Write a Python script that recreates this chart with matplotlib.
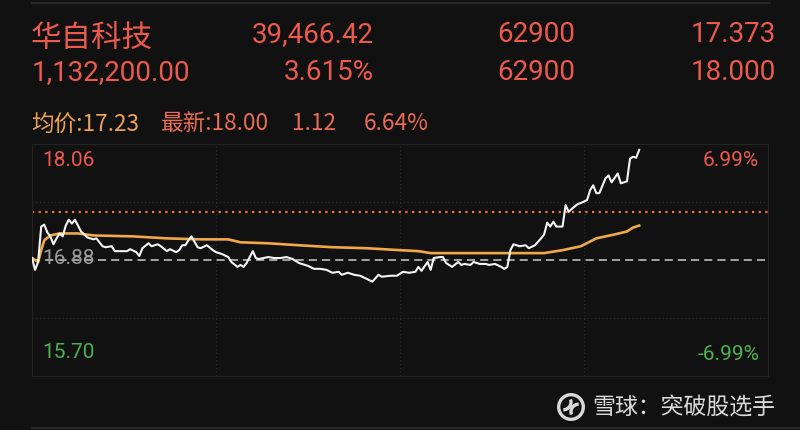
import matplotlib
matplotlib.use("Agg")
import matplotlib.pyplot as plt
from matplotlib.patches import Circle, Arc

# ---------------- data ----------------
stock_name = "华自科技"
header_row1 = ["39,466.42", "62900", "17.373"]
header_row2 = ["1,132,200.00", "3.615%", "62900", "18.000"]
avg_label = "均价:17.23"
last_label = "最新:18.00"
change_label = "1.12"
pct_label = "6.64%"

prev_close = 16.88
limit_pct = 0.0699
ref_line_price = 17.373
top_label = "18.06"
bottom_label = "15.70"
mid_label = "16.88"
top_pct_label = "6.99%"
bottom_pct_label = "-6.99%"

price_minutes = [0, 1, 2, 3, 4, 5, 6, 7, 8, 9, 10, 11, 12, 13, 14, 16, 17, 18, 20, 21,
                 23, 24, 26, 27, 29, 31, 32, 34, 35, 36, 38, 39, 41, 42, 44, 45, 47, 48, 49, 50,
                 51, 52, 54, 55, 57, 59, 60, 62, 64, 65, 67, 68, 69, 70, 72, 73, 74, 77, 79, 81,
                 83, 85, 87, 90, 92, 94, 96, 98, 100, 101, 103, 105, 107, 109, 111, 113, 114, 117, 119, 121,
                 123, 125, 126, 127, 129, 130, 131, 133, 134, 135, 137, 139, 140, 141, 143, 144, 146, 148, 149, 151,
                 153, 154, 155, 156, 157, 159, 161, 162, 164, 166, 167, 168, 169, 170, 171, 173, 174, 175, 176, 178,
                 179, 181, 182, 183, 184, 185, 187, 188, 189, 191, 192, 194, 195, 196, 197, 198]
price_values = [16.90, 16.78, 16.86, 17.22, 17.24, 17.16, 17.12, 17.04, 17.10, 17.15, 17.12, 17.23, 17.29, 17.25, 17.29, 17.17, 17.14, 17.11, 17.09, 17.10,
                17.02, 17.01, 17.02, 16.97, 16.97, 16.97, 16.99, 16.96, 16.92, 17.00, 17.05, 17.02, 17.04, 17.02, 16.97, 16.99, 16.96, 16.98, 17.03, 17.03,
                17.08, 17.12, 17.01, 17.00, 17.03, 16.98, 16.96, 16.94, 16.91, 16.86, 16.81, 16.83, 16.81, 16.85, 16.97, 16.90, 16.89, 16.91, 16.90, 16.90,
                16.91, 16.89, 16.85, 16.82, 16.79, 16.79, 16.78, 16.75, 16.76, 16.73, 16.75, 16.73, 16.72, 16.69, 16.66, 16.73, 16.71, 16.72, 16.72, 16.76,
                16.75, 16.76, 16.81, 16.77, 16.86, 16.78, 16.90, 16.91, 16.91, 16.85, 16.81, 16.86, 16.83, 16.84, 16.83, 16.86, 16.84, 16.84, 16.83, 16.84,
                16.81, 16.79, 16.81, 16.98, 17.04, 17.02, 17.03, 17.00, 17.03, 17.10, 17.14, 17.26, 17.22, 17.27, 17.22, 17.22, 17.44, 17.37, 17.40, 17.45,
                17.46, 17.49, 17.59, 17.64, 17.56, 17.56, 17.71, 17.74, 17.67, 17.76, 17.66, 17.68, 17.91, 17.93, 17.92, 18.00]

avg_minutes = [0, 2, 3, 4, 6, 9, 15, 20, 33, 44, 55, 64, 68, 77, 87, 98, 109, 120, 126, 130,
               142, 156, 167, 173, 179, 184, 190, 194, 196, 198]
avg_values = [16.90, 16.86, 16.98, 17.08, 17.13, 17.15, 17.15, 17.13, 17.12, 17.10, 17.09, 17.09, 17.06, 17.05, 17.03, 17.01, 17.00, 16.98, 16.97, 16.95,
              16.95, 16.95, 16.95, 16.98, 17.02, 17.10, 17.14, 17.17, 17.21, 17.23]

watermark = "雪球：突破股选手"

# ---------------- style ----------------
BG = "#111111"
RED = "#ec5a4e"
GREEN = "#4fb04d"
ORANGE_TXT = "#eba257"
SALMON = "#ec6c55"
GRID = "#2b2b2b"
CJK = ["Noto Sans CJK SC", "DejaVu Sans"]
NUM = ["Roboto", "DejaVu Sans"]

W, H = 800, 430
fig = plt.figure(figsize=(8, 4.3), dpi=100, facecolor=BG)

def fx(px):
    return px / W

def fy(py):
    return 1 - py / H

# header
fig.text(fx(31), fy(38), stock_name, color=RED, fontsize=22, family=CJK, va="center", ha="left")
for s, xr in zip(header_row1, [374, 575, 776]):
    fig.text(fx(xr), fy(35), s, color=RED, fontsize=20, family=NUM, va="center", ha="right")
fig.text(fx(32), fy(73), header_row2[0], color=RED, fontsize=20, family=NUM, va="center", ha="left")
for s, xr in zip(header_row2[1:], [374, 575, 776]):
    fig.text(fx(xr), fy(73), s, color=RED, fontsize=20, family=NUM, va="center", ha="right")

fig.text(fx(31), fy(124), avg_label, color=ORANGE_TXT, fontsize=16.3, family=CJK, va="center", ha="left")
fig.text(fx(161), fy(124), last_label, color=SALMON, fontsize=16.3, family=CJK, va="center", ha="left")
fig.text(fx(292), fy(124), change_label, color=SALMON, fontsize=16.3, family=CJK, va="center", ha="left")
fig.text(fx(364), fy(124), pct_label, color=SALMON, fontsize=16.3, family=CJK, va="center", ha="left")

# thin separators at top and bottom
fig.add_artist(plt.Line2D([fx(32), fx(770)], [fy(2.5), fy(2.5)], color="#2e2e2e", lw=1.2))
fig.add_artist(plt.Line2D([fx(32), fx(800)], [fy(428), fy(428)], color="#2e2e2e", lw=1.2))

# chart axes
ax = fig.add_axes([fx(32), fy(376), fx(768) - fx(32), fy(144) - fy(376)])
ax.set_facecolor(BG)
high = prev_close * (1 + limit_pct)
low = prev_close * (1 - limit_pct)
ax.set_xlim(0, 240)
ax.set_ylim(low, high)
ax.set_xticks([])
ax.set_yticks([])
for sp in ax.spines.values():
    sp.set_color("#242424")
    sp.set_linewidth(0.8)

for m in (60, 120, 180):
    ax.axvline(m, color=GRID, lw=0.9, linestyle=(0, (1, 2)), zorder=1)
for p in (prev_close + (high - prev_close) / 2, prev_close - (prev_close - low) / 2):
    ax.axhline(p, color=GRID, lw=0.9, linestyle=(0, (1, 2)), zorder=1)

ax.axhline(prev_close, color="#b0b0b0", lw=1.3, linestyle=(0, (4.5, 2.8)), zorder=2)
ax.axhline(ref_line_price, color="#e8774a", lw=1.6, linestyle=(0, (1, 2)), zorder=2)

ax.plot(avg_minutes, avg_values, color="#f0a848", lw=1.9, zorder=3, solid_joinstyle="round")
ax.plot(price_minutes, price_values, color="#f4f4f4", lw=1.5, zorder=4, solid_joinstyle="round")

# in-chart labels
fig.text(fx(42), fy(160), top_label, color=RED, fontsize=15, family=NUM, va="center", ha="left")
fig.text(fx(42), fy(258), mid_label, color="#9c9c9c", fontsize=15, family=NUM, va="center", ha="left", zorder=5)
fig.text(fx(42), fy(353), bottom_label, color=GREEN, fontsize=15, family=NUM, va="center", ha="left")
fig.text(fx(759), fy(160), top_pct_label, color=RED, fontsize=15, family=NUM, va="center", ha="right")
fig.text(fx(759), fy(354), bottom_pct_label, color=GREEN, fontsize=15, family=NUM, va="center", ha="right")

# watermark
lax = fig.add_axes([fx(556), fy(421), fx(30), fy(0) - fy(28)])
lax.set_xlim(-1, 1)
lax.set_ylim(-1, 1)
lax.set_aspect("equal")
lax.axis("off")
lax.add_patch(Circle((0, 0), 0.88, fill=False, ec="#d8d8d8", lw=2.4))
lax.add_patch(Arc((-0.55, 0.35), 1.1, 1.1, theta1=270, theta2=20, ec="#d8d8d8", lw=2.4))
lax.add_patch(Arc((0.55, -0.35), 1.1, 1.1, theta1=90, theta2=200, ec="#d8d8d8", lw=2.4))
fig.text(fx(592), fy(407), watermark, color="#dcdcdc", fontsize=16.5, family=CJK, va="center", ha="left")

fig.savefig("out.png", dpi=100, facecolor=BG)
